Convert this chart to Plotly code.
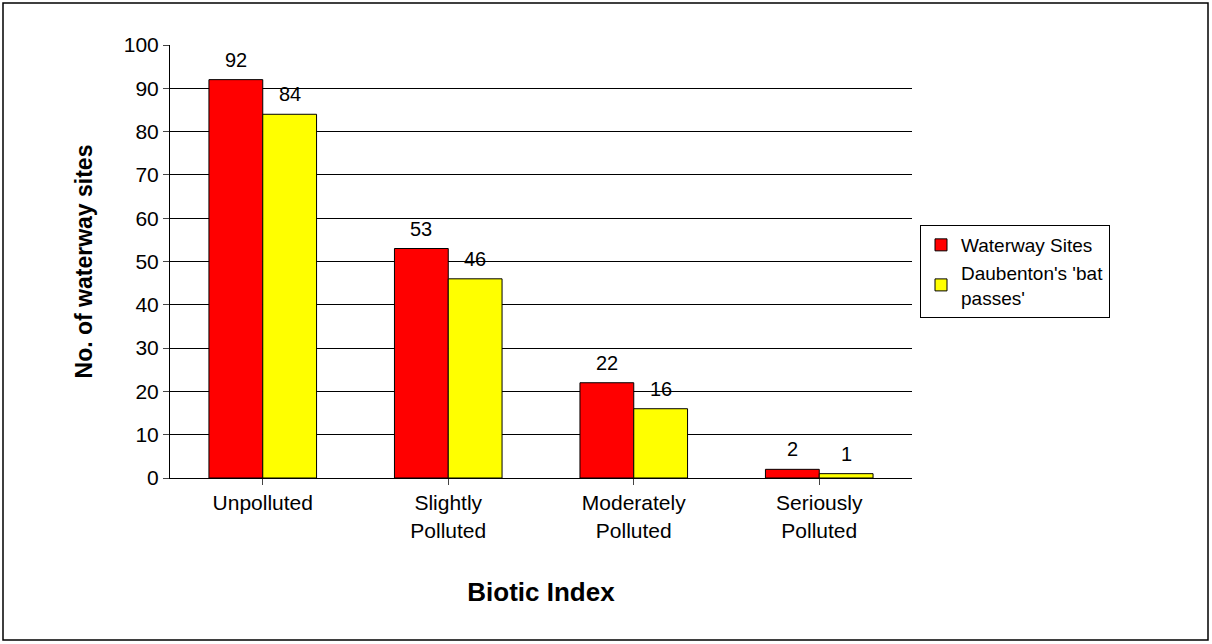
import plotly.graph_objects as go

categories = ["Unpolluted", "Slightly<br>Polluted", "Moderately<br>Polluted", "Seriously<br>Polluted"]
waterway = [92, 53, 22, 2]
bats = [84, 46, 16, 1]

L, R, T, B = 170, 300, 45, 166
W, H = 1212, 644
pw, ph = W - L - R, H - T - B
font = dict(family="Liberation Sans, Arial", size=21, color="black")
lfont = dict(family="Liberation Sans, Arial", size=19, color="black")
vfont = dict(family="Liberation Sans, Arial", size=20, color="black")
bargap = 0.42
half = (1 - bargap) * (pw / len(categories)) / 4

fig = go.Figure()
fig.add_bar(x=categories, y=waterway, name="Waterway Sites",
            marker=dict(color="#FF0000", line=dict(color="black", width=1)))
fig.add_bar(x=categories, y=bats, name="Daubenton's 'bat<br>passes'",
            marker=dict(color="#FFFF00", line=dict(color="black", width=1)))

for c, v in zip(categories, waterway):
    fig.add_annotation(x=c, y=v, text=str(v), showarrow=False, xshift=-half, yshift=20,
                       yanchor="middle", font=vfont)
for c, v in zip(categories, bats):
    fig.add_annotation(x=c, y=v, text=str(v), showarrow=False, xshift=half, yshift=20,
                       yanchor="middle", font=vfont)

fig.update_layout(
    width=W, height=H, margin=dict(l=L, r=R, t=T, b=B),
    plot_bgcolor="white", paper_bgcolor="white", font=font,
    barmode="group", bargap=bargap, bargroupgap=0,
    xaxis=dict(showline=True, linecolor="black", ticks="outside", ticklen=6, tickfont=font,
               title=dict(text="<b>Biotic Index</b>", font=dict(size=26), standoff=42)),
    yaxis=dict(range=[0, 100], dtick=10, showgrid=True, gridcolor="black", gridwidth=1, tickfont=font,
               showline=True, linecolor="black", ticks="outside", ticklen=6, zeroline=False,
               title=dict(text="<b>No. of waterway sites</b>", font=dict(size=23), standoff=24)),
    legend=dict(x=(920 - L) / pw, y=(478 - 225) / ph, xanchor="left", yanchor="top",
                bordercolor="black", borderwidth=1, font=lfont, tracegroupgap=16,
                traceorder="normal"),
    shapes=[dict(type="rect", xref="paper", yref="paper",
                 x0=(3 - L) / pw, x1=(1208 - L) / pw,
                 y0=(H - B - 640) / ph, y1=(H - B - 3) / ph,
                 line=dict(color="black", width=1.5))],
)
fig.write_html("out.html", config={"displayModeBar": False},
               post_script="document.body.style.margin='0';document.body.style.overflow='hidden';")
